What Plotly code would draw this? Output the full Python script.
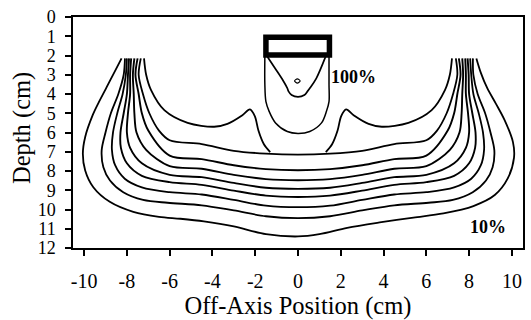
import plotly.graph_objects as go

# Isodose curves, (off-axis position cm, depth cm), traced from left lobe top to right lobe top
ISO_10 = [(-8.25, 2.15), (-8.6, 2.9), (-8.94, 3.63), (-9.3, 4.4), (-9.6, 5.1), (-9.95, 6.23), (-10.06, 7.1),
          (-9.95, 7.97), (-9.57, 8.84), (-8.8, 9.6), (-7.7, 10.12), (-6.5, 10.38), (-5.5, 10.48), (-4.4, 10.62),
          (-3.0, 10.88), (-1.5, 11.28), (0.0, 11.4), (1.0, 11.28), (2.3, 10.95), (3.9, 10.66), (5.4, 10.42),
          (6.8, 10.2), (8.2, 9.82), (9.2, 9.25), (9.8, 8.4), (10.1, 7.3), (10.05, 6.5), (9.66, 5.36),
          (9.25, 4.5), (8.85, 3.7), (8.55, 2.9), (8.34, 2.15)]
ISO_20 = [(-8.09, 2.15), (-8.15, 3.0), (-8.4, 4.0), (-8.75, 5.0), (-9.0, 6.0), (-9.18, 6.93), (-9.1, 7.8),
          (-8.79, 8.49), (-8.17, 9.1), (-7.24, 9.5), (-6.1, 9.65), (-4.5, 9.78), (-3.0, 10.05), (-1.5, 10.35),
          (0.0, 10.45), (1.5, 10.35), (3.0, 10.05), (4.5, 9.78), (6.1, 9.65), (7.24, 9.5), (8.17, 9.1),
          (8.79, 8.49), (9.1, 7.8), (9.18, 6.93), (9.0, 6.0), (8.75, 5.0), (8.4, 4.0), (8.2, 3.0), (8.18, 2.15)]
ISO_30 = [(-8.0, 2.15), (-8.05, 3.0), (-8.2, 4.0), (-8.45, 5.0), (-8.65, 6.0), (-8.7, 6.9), (-8.55, 7.7),
          (-8.1, 8.4), (-7.3, 8.85), (-6.0, 9.1), (-4.5, 9.22), (-3.0, 9.5), (-1.5, 9.8), (0.0, 9.88),
          (1.5, 9.8), (3.0, 9.5), (4.5, 9.22), (6.0, 9.1), (7.3, 8.85), (8.1, 8.4), (8.55, 7.7), (8.7, 6.9),
          (8.65, 6.0), (8.45, 5.0), (8.2, 4.0), (8.1, 3.0), (8.05, 2.15)]
ISO_40 = [(-7.9, 2.15), (-7.95, 3.0), (-8.0, 4.0), (-8.15, 5.0), (-8.3, 6.0), (-8.28, 6.8), (-8.0, 7.6),
          (-7.3, 8.25), (-6.0, 8.58), (-4.5, 8.72), (-3.0, 9.02), (-1.5, 9.28), (0.0, 9.35), (1.5, 9.28),
          (3.0, 9.02), (4.5, 8.72), (6.0, 8.58), (7.3, 8.25), (8.0, 7.6), (8.28, 6.8), (8.3, 6.0), (8.15, 5.0),
          (8.0, 4.0), (7.98, 3.0), (7.93, 2.15)]
ISO_50 = [(-7.8, 2.15), (-7.85, 3.0), (-7.85, 4.0), (-7.95, 5.0), (-8.0, 6.0), (-7.85, 6.8), (-7.3, 7.6),
          (-6.0, 8.2), (-4.5, 8.32), (-3.0, 8.62), (-1.5, 8.87), (0.0, 8.93), (1.5, 8.87), (3.0, 8.62),
          (4.5, 8.32), (6.0, 8.2), (7.3, 7.6), (7.85, 6.8), (8.0, 6.0), (7.95, 5.0), (7.85, 4.0), (7.85, 3.0),
          (7.82, 2.15)]
ISO_60 = [(-7.65, 2.15), (-7.72, 3.0), (-7.68, 4.0), (-7.65, 5.0), (-7.55, 6.0), (-7.1, 6.9), (-6.0, 7.75),
          (-4.5, 7.88), (-3.0, 8.2), (-1.5, 8.42), (0.0, 8.48), (1.5, 8.42), (3.0, 8.2), (4.5, 7.88), (6.0, 7.75),
          (7.1, 6.9), (7.55, 6.0), (7.65, 5.0), (7.68, 4.0), (7.72, 3.0), (7.68, 2.15)]
ISO_70 = [(-7.5, 2.15), (-7.6, 3.0), (-7.45, 4.0), (-7.3, 5.0), (-7.0, 5.9), (-6.0, 7.2), (-4.5, 7.38),
          (-3.0, 7.7), (-1.5, 7.9), (0.0, 7.96), (1.5, 7.9), (3.0, 7.7), (4.5, 7.38), (6.0, 7.2), (7.0, 5.9),
          (7.3, 5.0), (7.45, 4.0), (7.6, 3.0), (7.52, 2.15)]
ISO_80 = [(-7.35, 2.15), (-7.45, 3.0), (-7.25, 4.0), (-6.95, 5.0), (-6.5, 5.9), (-6.0, 6.4), (-4.5, 6.6),
          (-3.0, 6.95), (-1.5, 7.1), (0.0, 7.15), (1.5, 7.1), (3.0, 6.95), (4.5, 6.6), (6.0, 6.4), (6.5, 5.9),
          (6.95, 5.0), (7.25, 4.0), (7.45, 3.0), (7.38, 2.15)]
ISO_90_LEFT = [(-7.2, 2.15), (-7.1, 3.0), (-6.87, 3.8), (-6.25, 4.84), (-5.16, 5.5), (-3.92, 5.7),
               (-3.3, 5.55), (-2.6, 5.1), (-2.25, 4.8), (-2.02, 5.15), (-1.85, 5.9), (-1.6, 6.6), (-1.3, 7.02)]
ISO_90_RIGHT = [(1.3, 7.02), (1.6, 6.6), (1.85, 5.9), (2.02, 5.15), (2.25, 4.8), (2.6, 5.1), (3.3, 5.55),
                (3.92, 5.7), (5.16, 5.5), (6.25, 4.84), (6.87, 3.8), (7.1, 3.0), (7.2, 2.15)]
ISO_100 = [(-1.55, 2.05), (-1.55, 3.5), (-1.5, 4.4), (-1.35, 4.9), (-1.05, 5.5), (-0.5, 5.95), (0.0, 6.05),
           (0.55, 5.95), (1.1, 5.5), (1.33, 4.9), (1.45, 4.4), (1.45, 3.5), (1.45, 2.05)]
HOT_V = [(-1.43, 2.06), (-1.05, 2.7), (-0.7, 3.3), (-0.5, 3.7), (-0.45, 3.85), (-0.3, 4.05), (0.0, 4.15),
         (0.3, 4.05), (0.45, 3.85), (0.55, 3.7), (0.85, 3.2), (1.29, 2.06)]
HOT_SPOT = [(-0.16, 3.32), (-0.03, 3.21), (0.1, 3.32), (-0.03, 3.43), (-0.16, 3.32)]

APPLICATOR_X = [-1.5, 1.47]
APPLICATOR_DEPTH = [1.05, 1.98]

X_TICKS = [-10, -8, -6, -4, -2, 0, 2, 4, 6, 8, 10]
X_TICK_TEXT = ["-10", "-8", "-6", "-4", "-2", "0", "2", "4", "6", "8", "10"]
Y_TICKS = list(range(0, 13))

LABELS = [("100%", 2.6, 3.1), ("10%", 8.88, 10.92)]

SERIF = "Liberation Serif"

fig = go.Figure()
for pts, w in [(ISO_10, 1.8), (ISO_20, 1.8), (ISO_30, 1.8), (ISO_40, 1.9), (ISO_50, 1.9), (ISO_60, 1.9),
               (ISO_70, 1.9), (ISO_80, 1.8), (ISO_90_LEFT, 1.8), (ISO_90_RIGHT, 1.8), (ISO_100, 1.5),
               (HOT_V, 1.7), (HOT_SPOT, 1.2)]:
    fig.add_trace(go.Scatter(
        x=[p[0] for p in pts], y=[p[1] for p in pts], mode="lines",
        line=dict(color="black", width=w, shape="spline", smoothing=0.9),
        hoverinfo="skip", showlegend=False))

fig.add_shape(type="rect", xref="x", yref="y",
              x0=APPLICATOR_X[0], x1=APPLICATOR_X[1], y0=APPLICATOR_DEPTH[0], y1=APPLICATOR_DEPTH[1],
              line=dict(color="black", width=5.5), fillcolor="white")

for text, x, y in LABELS:
    fig.add_annotation(x=x, y=y, xref="x", yref="y", text="<b>%s</b>" % text, showarrow=False,
                       font=dict(family=SERIF, size=18, color="black"))

# vertical axis title placed beside the tick labels
fig.add_annotation(x=-0.113, y=0.52, xref="paper", yref="paper", text="Depth (cm)", textangle=-90,
                   showarrow=False, xanchor="center", yanchor="middle",
                   font=dict(family=SERIF, size=24.5, color="black"))

axis_common = dict(showline=True, linecolor="black", linewidth=1.5, mirror=True, ticks="outside",
                   ticklen=6, tickwidth=1.5, tickcolor="black", showgrid=False, zeroline=False)

fig.update_xaxes(range=[-10.52, 10.52], tickvals=X_TICKS, ticktext=X_TICK_TEXT, ticklabelstandoff=8,
                 tickfont=dict(family=SERIF, size=20, color="black"),
                 title=dict(text="Off-Axis Position (cm)", font=dict(family=SERIF, size=24.5, color="black"),
                            standoff=3), **axis_common)
fig.update_yaxes(range=[12, 0], tickvals=Y_TICKS, ticktext=[str(v) for v in Y_TICKS], ticklabelstandoff=6,
                 tickfont=dict(family=SERIF, size=18, color="black"), **axis_common)

fig.update_layout(width=531, height=320, margin=dict(l=73, r=6, t=17, b=72),
                  paper_bgcolor="white", plot_bgcolor="white", showlegend=False)

fig.write_html("out.html")
